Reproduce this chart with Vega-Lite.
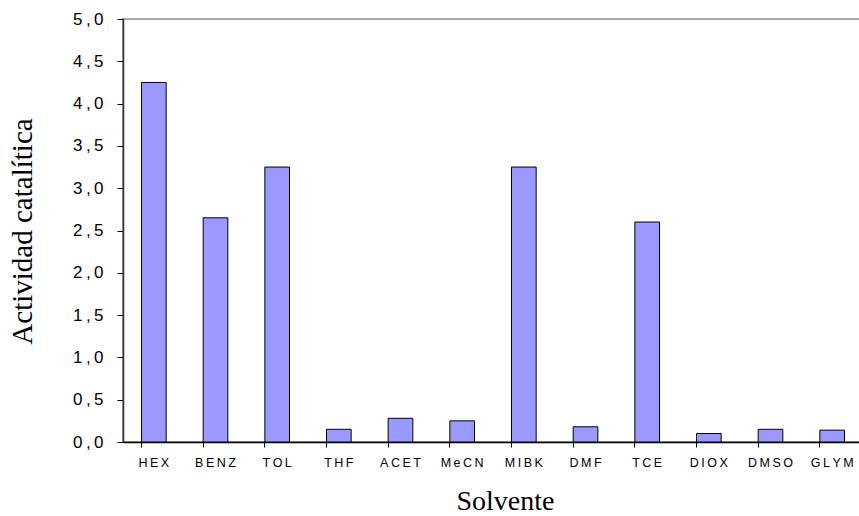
{
  "$schema": "https://vega.github.io/schema/vega-lite/v6.json",
  "autosize": "none",
  "width": 740,
  "height": 423,
  "padding": {"left": 123, "top": 19, "right": 0, "bottom": 74},
  "background": "white",
  "config": {"view": {"stroke": "#888888", "strokeWidth": 1.5}},
  "data": {"values": [
    {"solvente": "HEX", "actividad": 4.25},
    {"solvente": "BENZ", "actividad": 2.65},
    {"solvente": "TOL", "actividad": 3.25},
    {"solvente": "THF", "actividad": 0.15},
    {"solvente": "ACET", "actividad": 0.28},
    {"solvente": "MeCN", "actividad": 0.25},
    {"solvente": "MIBK", "actividad": 3.25},
    {"solvente": "DMF", "actividad": 0.18},
    {"solvente": "TCE", "actividad": 2.6},
    {"solvente": "DIOX", "actividad": 0.1},
    {"solvente": "DMSO", "actividad": 0.15},
    {"solvente": "GLYM", "actividad": 0.14}
  ]},
  "mark": {"type": "bar", "fill": "#9999FF", "stroke": "#000000", "strokeWidth": 1},
  "encoding": {
    "x": {
      "field": "solvente", "type": "nominal", "sort": null,
      "scale": {"paddingInner": 0.6, "paddingOuter": 0.3},
      "axis": {
        "title": "Solvente", "titleFont": "Liberation Serif", "titleFontSize": 28, "titleFontWeight": "normal", "titleColor": "#000000",
        "titleX": 382, "titleY": 59, "titleBaseline": "middle",
        "labelAngle": 0, "labelFont": "Liberation Sans", "labelFontSize": 12.5, "labelColor": "#000000",
        "labelExpr": "join(split(datum.label, ''), '\u2009')",
        "labelPadding": 9,
        "bandPosition": 0, "tickSize": 5, "tickColor": "#000000", "tickWidth": 1,
        "domainColor": "#000000", "domainWidth": 1.5
      }
    },
    "y": {
      "field": "actividad", "type": "quantitative",
      "scale": {"domain": [0, 5], "nice": false},
      "axis": {
        "title": "Actividad catalítica", "titleFont": "Liberation Serif", "titleFontSize": 29, "titleFontWeight": "normal", "titleColor": "#000000",
        "titleX": -101, "titleY": 212, "titleAngle": -90, "titleBaseline": "middle", "titleAlign": "center",
        "values": [0, 0.5, 1, 1.5, 2, 2.5, 3, 3.5, 4, 4.5, 5],
        "labelExpr": "join(split(replace(format(datum.value, '.1f'), '.', ','), ''), '\u2009')",
        "labelFont": "Liberation Sans", "labelFontSize": 17, "labelColor": "#000000", "labelPadding": 14,
        "tickSize": 6, "tickColor": "#000000", "tickWidth": 1,
        "domainColor": "#333333", "domainWidth": 1.5,
        "grid": false
      }
    }
  }
}
